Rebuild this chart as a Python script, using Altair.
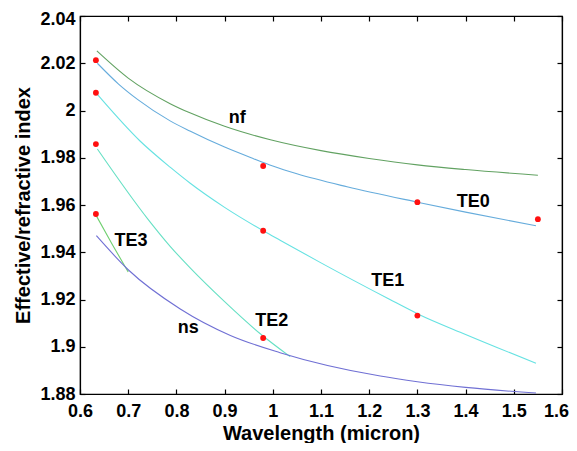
import altair as alt
import pandas as pd

# ---- data ----
nf_x = [0.635, 0.70, 0.787, 0.828, 0.90, 0.995, 1.10, 1.20, 1.30, 1.40, 1.55]
nf_y = [2.0252, 2.0137, 2.0029, 1.9990, 1.9933, 1.9876, 1.9830, 1.9797, 1.9770, 1.9750, 1.9726]

te0_x = [0.636, 0.68, 0.72, 0.787, 0.828, 0.90, 0.96, 1.00, 1.05, 1.154, 1.30, 1.40, 1.546]
te0_y = [2.0200, 2.0112, 2.0046, 1.9956, 1.9913, 1.9845, 1.9796, 1.9765, 1.9732, 1.9677, 1.9612, 1.9570, 1.9512]

te1_x = [0.636, 0.724, 0.787, 0.828, 0.90, 0.981, 1.016, 1.10, 1.241, 1.301, 1.40, 1.546]
te1_y = [2.0068, 1.9872, 1.9760, 1.9693, 1.9590, 1.9490, 1.9450, 1.9355, 1.9202, 1.9139, 1.9052, 1.8930]

te2_x = [0.636, 0.742, 0.787, 0.828, 0.90, 0.974, 1.036]
te2_y = [1.9837, 1.9537, 1.9425, 1.9335, 1.9191, 1.9055, 1.8958]

te3_x = [0.634, 0.667, 0.700]
te3_y = [1.9554, 1.9433, 1.9316]

ns_x = [0.634, 0.70, 0.808, 0.912, 1.015, 1.223, 1.30, 1.40, 1.546]
ns_y = [1.9470, 1.9326, 1.9160, 1.9048, 1.8975, 1.8876, 1.8852, 1.8828, 1.8804]

meas_x = [0.633, 0.633, 0.633, 0.633, 0.98, 0.98, 0.98, 1.30, 1.30, 1.55]
meas_y = [2.0213, 2.0075, 1.9858, 1.9562, 1.9765, 1.9491, 1.9037, 1.9612, 1.9132, 1.9540]

label_text = ["nf", "TE0", "TE1", "TE2", "TE3", "ns"]
label_x = [0.926, 1.416, 1.2385, 0.998, 0.7056, 0.8248]
label_y = [1.9969, 1.9611, 1.9279, 1.9107, 1.9446, 1.9079]

series_names = ["nf", "TE0", "TE1", "TE2", "TE3", "ns"]
series_colors = ["#62a262", "#66acdc", "#66e2e2", "#66e0c4", "#70d070", "#7070d4"]

x_ticks = [0.6, 0.7, 0.8, 0.9, 1.0, 1.1, 1.2, 1.3, 1.4, 1.5, 1.6]
y_ticks = [1.88, 1.90, 1.92, 1.94, 1.96, 1.98, 2.00, 2.02, 2.04]

# ---- tables ----
rows = []
for name, xs, ys in zip(series_names,
                        [nf_x, te0_x, te1_x, te2_x, te3_x, ns_x],
                        [nf_y, te0_y, te1_y, te2_y, te3_y, ns_y]):
    for i, (a, b) in enumerate(zip(xs, ys)):
        rows.append({"series": name, "x": a, "y": b, "order": i})
lines_df = pd.DataFrame(rows)
pts_df = pd.DataFrame({"x": meas_x, "y": meas_y})
lab_df = pd.DataFrame({"x": label_x, "y": label_y, "t": label_text})

FONT = "Liberation Sans"
xscale = alt.Scale(domain=[0.6, 1.6], nice=False, zero=False)
yscale = alt.Scale(domain=[1.88, 2.04], nice=False, zero=False)
inward = {"expr": "-5"}

lines = alt.Chart(lines_df).mark_line(strokeWidth=1.1, clip=True,
                                      interpolate="monotone").encode(
    x=alt.X("x:Q", scale=xscale,
            axis=alt.Axis(orient="bottom", values=x_ticks, format="~g",
                          title="Wavelength (micron)", tickSize=inward,
                          labelPadding=13, labelFlush=False,
                          labelOffset={"condition": {"test": "datum.value >= 1.59",
                                                     "value": -6},
                                       "value": 0},
                          titleBaseline="alphabetic", titleY=45, grid=False)),
    y=alt.Y("y:Q", scale=yscale,
            axis=alt.Axis(orient="left", values=y_ticks, format="~g",
                          title="Effective/refractive index", tickSize=inward,
                          labelPadding=10, labelFlush=False, titlePadding=6,
                          labelOffset={"condition": {"test": "datum.value >= 2.039",
                                                     "value": 3},
                                       "value": 0},
                          grid=False)),
    color=alt.Color("series:N", scale=alt.Scale(domain=series_names, range=series_colors),
                    legend=None),
    detail="series:N",
    order="order:Q",
)

pts = alt.Chart(pts_df).mark_circle(size=34, color="#ff1010", opacity=1).encode(
    x=alt.X("x:Q", scale=xscale,
            axis=alt.Axis(orient="top", values=x_ticks, labels=False, title=None,
                          tickSize=inward, grid=False)),
    y=alt.Y("y:Q", scale=yscale,
            axis=alt.Axis(orient="right", values=y_ticks, labels=False, title=None,
                          tickSize=inward, grid=False)),
)

labs = alt.Chart(lab_df).mark_text(font=FONT, fontSize=18, fontWeight="bold",
                                   color="black").encode(
    x=alt.X("x:Q", scale=xscale, axis=None),
    y=alt.Y("y:Q", scale=yscale, axis=None),
    text="t:N",
)

chart = alt.layer(lines, pts, labs).resolve_axis(
    x="independent", y="independent"
).properties(
    width=482, height=378,
    autosize=alt.AutoSizeParams(type="none"),
    padding={"left": 72, "top": 8, "right": 7, "bottom": 49},
).configure_view(stroke="black", strokeWidth=1.2).configure_axis(
    domainColor="black", tickColor="black", domainWidth=1.2, tickWidth=1.2,
    labelFont=FONT, labelFontSize=18, labelFontWeight="bold", labelColor="black",
    titleFont=FONT, titleFontSize=20, titleFontWeight="bold", titleColor="black",
)

chart.save("out.html", embed_options={"renderer": "svg", "actions": False})
